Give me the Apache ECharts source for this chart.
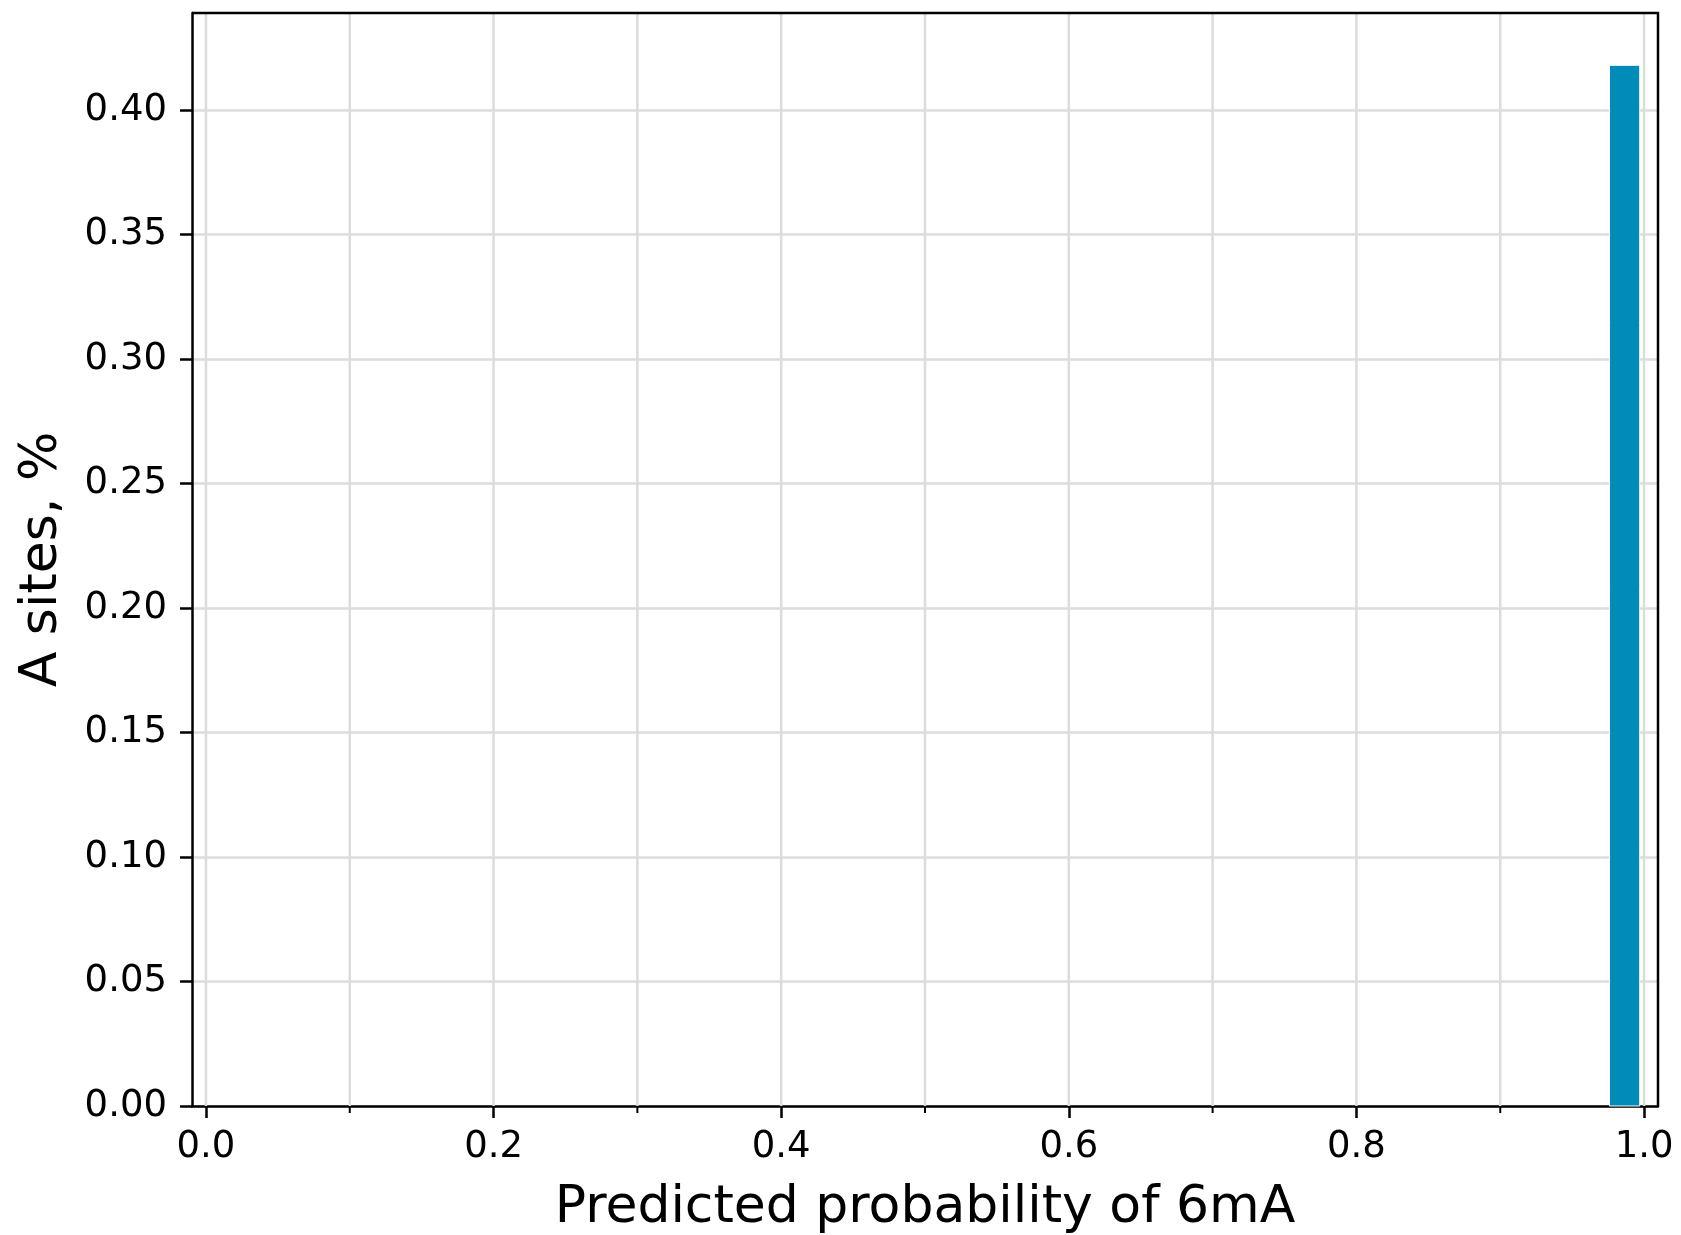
<!DOCTYPE html>
<html lang="en">

<head>
    <meta charset="UTF-8" />
    <title>Predicted probability of 6mA</title>
    <script src="https://cdn.jsdelivr.net/npm/echarts@6/dist/echarts.min.js"></script>
    <style>
        html, body { margin: 0; padding: 0; background: #fff; }
        #chart { width: 1681px; height: 1235px; }
    </style>
</head>

<body>
    <div id="chart"></div>

    <script type="text/javascript">
        // histogram bins (only the non-empty one is visible)
        let binStart = [0.976];
        let binEnd = [0.997];
        let binValue = [0.418];

        let xTicks = [0.0, 0.2, 0.4, 0.6, 0.8, 1.0];
        let xMinorTicks = [0.1, 0.3, 0.5, 0.7, 0.9];
        let yTicks = [0.00, 0.05, 0.10, 0.15, 0.20, 0.25, 0.30, 0.35, 0.40];

        let data = binStart.map((s, i) => [s, binEnd[i], binValue[i]]);
        let xGrid = xTicks.concat(xMinorTicks).map(v => [v]);

        let myChart = echarts.init(document.getElementById("chart"), null, {
            width: 1681,
            height: 1235,
        });

        let font = "DejaVu Sans";

        let option = {
            animation: false,
            grid: { left: 192, top: 13, right: 23, bottom: 129, outerBoundsMode: "none", containLabel: false },
            xAxis: {
                type: "value",
                min: -0.0097,
                max: 1.0097,
                name: "Predicted probability of 6mA",
                nameLocation: "middle",
                nameGap: 76,
                nameTextStyle: { fontFamily: font, fontSize: 52, color: "#000" },
                axisLine: { onZero: false, lineStyle: { color: "#000", width: 2.5 } },
                axisTick: {
                    show: true,
                    length: 12,
                    lineStyle: { color: "#000", width: 2.5 },
                    customValues: xTicks,
                },
                axisLabel: {
                    fontFamily: font,
                    fontSize: 37,
                    color: "#000",
                    margin: 23,
                    customValues: xTicks,
                    formatter: (v) => v.toFixed(1),
                },
                splitLine: { show: false },
            },
            yAxis: {
                type: "value",
                min: 0,
                max: 0.439,
                interval: 0.05,
                name: "A sites, %",
                nameLocation: "middle",
                nameGap: 124,
                nameTextStyle: { fontFamily: font, fontSize: 52, color: "#000" },
                axisLine: { show: true, onZero: false, lineStyle: { color: "#000", width: 2.5 } },
                axisTick: {
                    show: true,
                    length: 12,
                    lineStyle: { color: "#000", width: 2.5 },
                    customValues: yTicks,
                },
                axisLabel: {
                    fontFamily: font,
                    fontSize: 37,
                    color: "#000",
                    margin: 25,
                    customValues: yTicks,
                    formatter: (v) => v.toFixed(2),
                },
                splitLine: { show: true, lineStyle: { color: "#dcdcdc", width: 2.5 } },
            },
            series: [
                {
                    // vertical grid lines at every 0.1
                    type: "custom",
                    silent: true,
                    data: xGrid,
                    encode: { x: 0 },
                    renderItem: function (params, api) {
                        let c = params.coordSys;
                        let p = api.coord([api.value(0), 0]);
                        return {
                            type: "line",
                            shape: { x1: p[0], y1: c.y, x2: p[0], y2: c.y + c.height },
                            style: { stroke: "#dcdcdc", lineWidth: 2.5 },
                        };
                    },
                    z: 1,
                },
                {
                    // minor x ticks
                    type: "custom",
                    silent: true,
                    data: xMinorTicks.map(v => [v]),
                    encode: { x: 0 },
                    renderItem: function (params, api) {
                        let p = api.coord([api.value(0), 0]);
                        return {
                            type: "line",
                            shape: { x1: p[0], y1: p[1], x2: p[0], y2: p[1] + 7 },
                            style: { stroke: "#000", lineWidth: 2 },
                        };
                    },
                    z: 5,
                },
                {
                    type: "custom",
                    data: data,
                    encode: { x: [0, 1], y: 2 },
                    renderItem: function (params, api) {
                        let a = api.coord([api.value(0), api.value(2)]);
                        let b = api.coord([api.value(1), 0]);
                        return {
                            type: "rect",
                            shape: { x: a[0], y: a[1], width: b[0] - a[0], height: b[1] - a[1] },
                            style: { fill: "#008bb8", stroke: "#ffffff", lineWidth: 1 },
                        };
                    },
                    z: 3,
                },
                {
                    // top and right frame
                    type: "custom",
                    silent: true,
                    data: [[0]],
                    renderItem: function (params, api) {
                        let c = params.coordSys;
                        return {
                            type: "polyline",
                            shape: {
                                points: [[c.x, c.y], [c.x + c.width, c.y], [c.x + c.width, c.y + c.height]],
                            },
                            style: { stroke: "#000", lineWidth: 2.5, fill: null },
                        };
                    },
                    z: 6,
                },
            ],
        };

        myChart.setOption(option);
    </script>
</body>

</html>
